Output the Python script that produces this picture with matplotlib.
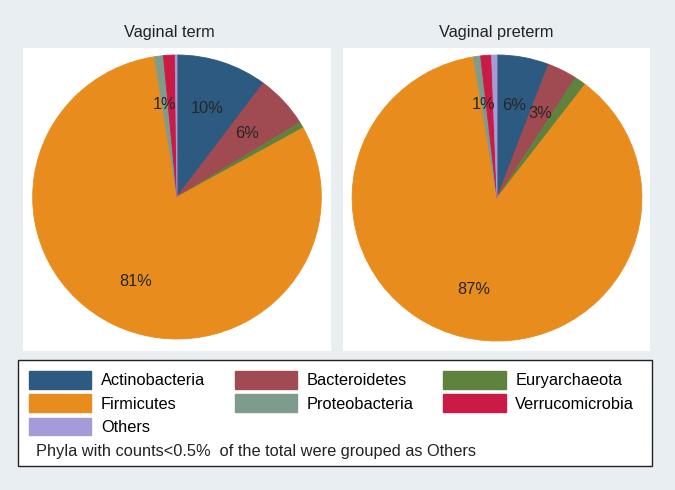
import matplotlib
matplotlib.use('Agg')
import matplotlib.pyplot as plt
import numpy as np
from matplotlib.patches import Patch, Rectangle

plt.rcParams['font.family'] = ['Liberation Sans', 'DejaVu Sans']

PHYLA = ['Actinobacteria', 'Bacteroidetes', 'Euryarchaeota', 'Firmicutes',
         'Proteobacteria', 'Verrucomicrobia', 'Others']
COLORS = ['#2d5a80', '#a04a52', '#5f823f', '#e88c1e', '#7f9b8c', '#c91b45', '#a59bd8']

term_pct = [10.2, 6.0, 0.7, 80.6, 1.0, 1.3, 0.2]
preterm_pct = [5.8, 3.3, 1.3, 87.0, 0.8, 1.2, 0.6]
# only these slices carry a percent label in the original
labelled = ['Actinobacteria', 'Bacteroidetes', 'Firmicutes', 'Proteobacteria']

TITLES = ['Vaginal term', 'Vaginal preterm']
NOTE = 'Phyla with counts<0.5%  of the total were grouped as Others'

BG = '#e8eef1'
W, H = 675, 490
FS = 11.8


def px_axes(x0, y0, x1, y1):
    return fig.add_axes([x0 / W, 1 - y1 / H, (x1 - x0) / W, (y1 - y0) / H])


def draw_pie(ax, values, r_px, cx_off, cy_off):
    wedges, _ = ax.pie(values, colors=COLORS, startangle=90, counterclock=False,
                       radius=1.0, center=(0, 0), wedgeprops=dict(linewidth=0.6))
    for w in wedges:
        w.set_edgecolor(w.get_facecolor())
    ang = 90.0
    for name, v in zip(PHYLA, values):
        span = v / sum(values) * 360.0
        mid = np.deg2rad(ang - span / 2)
        ang -= span
        if name in labelled:
            ax.text(0.66 * np.cos(mid), 0.66 * np.sin(mid), f'{v:.0f}%',
                    ha='center', va='center', fontsize=FS, color='#262626')
    # cx_off / cy_off: pie centre offset in px (right / up) from the panel centre
    bb = ax.get_position()
    wpx, hpx = bb.width * W, bb.height * H
    ax.set_xlim(-(wpx / 2 + cx_off) / r_px, (wpx / 2 - cx_off) / r_px)
    ax.set_ylim(-(hpx / 2 + cy_off) / r_px, (hpx / 2 - cy_off) / r_px)
    ax.set_aspect('auto')
    ax.set_frame_on(True)
    ax.patch.set_facecolor('white')
    for s in ax.spines.values():
        s.set_visible(False)
    ax.set_xticks([])
    ax.set_yticks([])


fig = plt.figure(figsize=(W / 100, H / 100), dpi=100, facecolor=BG)

ax1 = px_axes(23, 48, 331, 351)
draw_pie(ax1, term_pct, 142, 0, 2.5)
fig.text(169 / W, 1 - 33 / H, TITLES[0], ha='center', va='center', fontsize=FS, color='#222222')

ax2 = px_axes(343, 48, 650, 351)
draw_pie(ax2, preterm_pct, 143, 0.5, 1.5)
fig.text(496 / W, 1 - 33 / H, TITLES[1], ha='center', va='center', fontsize=FS, color='#222222')

# legend box
fig.patches.append(Rectangle((18 / W, 1 - 466 / H), (652 - 18) / W, (466 - 360) / H,
                             transform=fig.transFigure, facecolor='white',
                             edgecolor='#222222', linewidth=1.0))

handles = [Patch(facecolor=c, edgecolor=c, label=n) for n, c in zip(PHYLA, COLORS)]
# reorder so matplotlib's column-wise fill reads row by row
order = [0, 3, 6, 1, 4, 2, 5]
fig.legend([handles[i] for i in order], [PHYLA[i] for i in order],
           loc='upper left', bbox_to_anchor=(29 / W, 1 - 371 / H), ncol=3,
           frameon=False, fontsize=FS, handlelength=3.8, handleheight=1.3,
           handletextpad=0.6, columnspacing=1.8, labelspacing=0.33, borderpad=0,
           borderaxespad=0)

fig.text(36 / W, 1 - 451 / H, NOTE, ha='left', va='center', fontsize=FS, color='#222222')

fig.savefig('out.png', dpi=100, facecolor=BG)
